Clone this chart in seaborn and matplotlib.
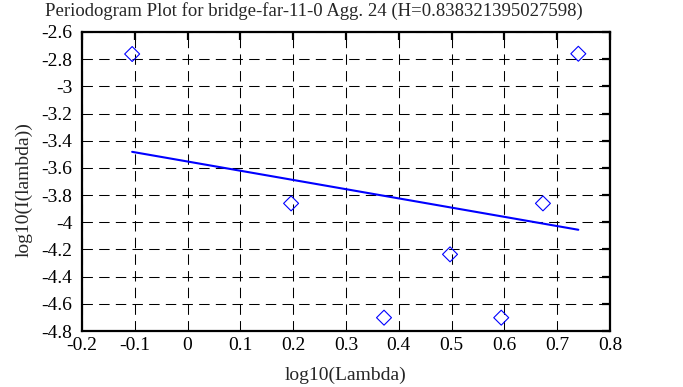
import numpy as np
import pandas as pd
import matplotlib
matplotlib.use("Agg")
import matplotlib.pyplot as plt
from matplotlib.ticker import FuncFormatter, MultipleLocator
import seaborn as sns

# values
log_lambda = [-0.105, 0.196, 0.372, 0.497, 0.594, 0.673, 0.740]
log_I = [-2.762, -3.861, -4.702, -4.236, -4.702, -3.861, -2.760]
title = "Periodogram Plot for bridge-far-11-0 Agg. 24 (H=0.838321395027598)"

df = pd.DataFrame({"x": log_lambda, "y": log_I})

sns.set_style("white")
plt.rcParams["font.family"] = ["Liberation Serif", "DejaVu Serif"]
plt.rcParams["axes.unicode_minus"] = False
plt.rcParams["font.size"] = 14

fig = plt.figure(figsize=(6.83, 3.87), dpi=100)
ax = fig.add_axes([82 / 683, 1 - 331 / 387, 528 / 683, 299 / 387])

# grid
ax.grid(True, color="black", linestyle=(0, (10, 6)), linewidth=0.75)
ax.set_axisbelow(True)

# regression line and data points
sns.regplot(data=df, x="x", y="y", scatter=False, ci=None, ax=ax,
            color="blue", line_kws={"linewidth": 1.5})
sns.scatterplot(data=df, x="x", y="y", ax=ax, marker="D", s=58,
                fc="none", ec="blue", linewidth=0.8, zorder=3)

ax.set_xlim(-0.2, 0.8)
ax.set_ylim(-4.8, -2.6)
ax.xaxis.set_major_locator(MultipleLocator(0.1))
ax.yaxis.set_major_locator(MultipleLocator(0.2))
fmt = FuncFormatter(lambda v, p: "%g" % round(v, 6))
ax.xaxis.set_major_formatter(fmt)
ax.yaxis.set_major_formatter(fmt)

for s in ax.spines.values():
    s.set_linewidth(1.6)
    s.set_color("black")
ax.tick_params(direction="in", length=6, width=1.6, top=True, right=True,
               labelsize=14, colors="black")
ax.tick_params(axis="y", pad=7)
ax.tick_params(axis="x", pad=4)

ax.set_xlabel("log10(Lambda)", fontsize=14, va="center")
ax.set_ylabel("log10(I(lambda))", fontsize=14, va="center")
ax.xaxis.set_label_coords(0.5, -0.147)
ax.yaxis.set_label_coords(-0.110, 0.473)
fig.text(314 / 683, 1 - 11 / 387, title, ha="center", va="center", fontsize=13.5)

fig.savefig("out.png", dpi=100)
